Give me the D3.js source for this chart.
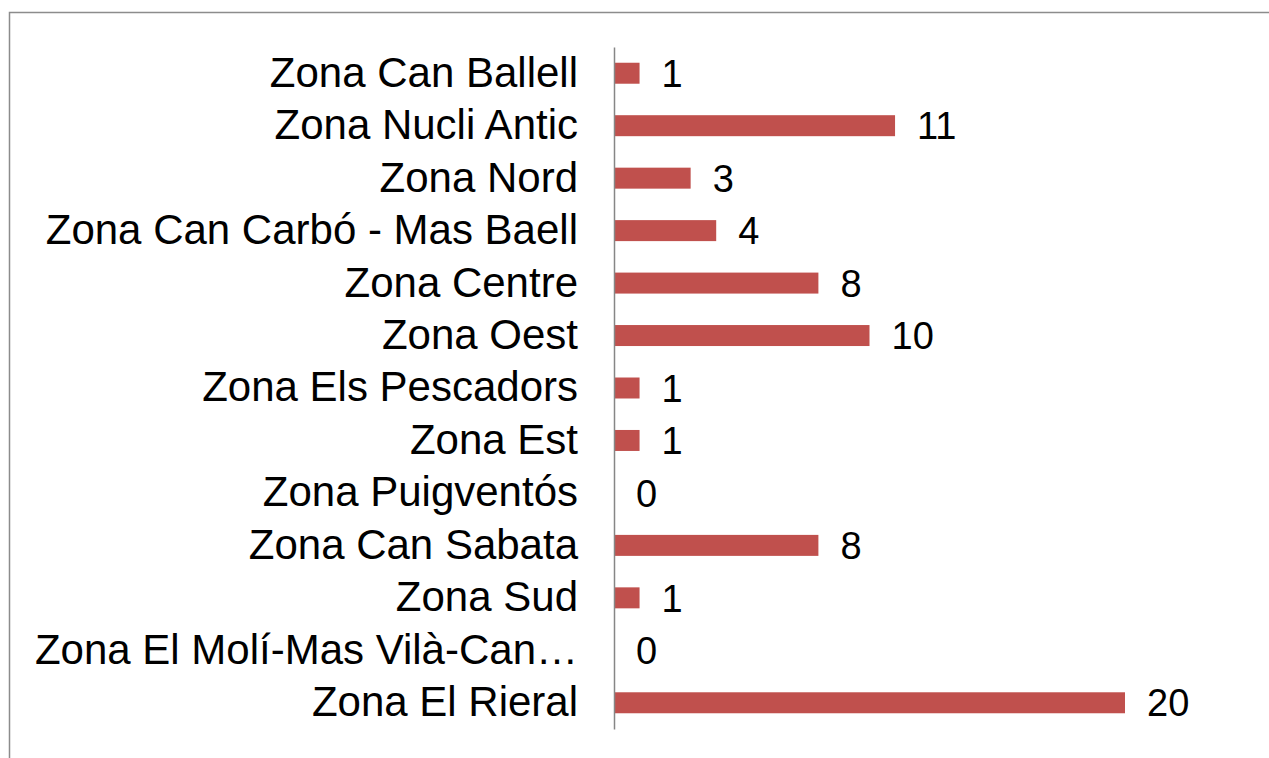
<!DOCTYPE html>
<html>
<head>
<meta charset="utf-8">
<script src="https://cdn.jsdelivr.net/npm/d3@7"></script>
<style>
  html, body { margin: 0; padding: 0; background: #fff; }
  svg { display: block; }
</style>
</head>
<body>
<script>
const categories = [
  "Zona Can Ballell",
  "Zona Nucli Antic",
  "Zona Nord",
  "Zona Can Carbó - Mas Baell",
  "Zona Centre",
  "Zona Oest",
  "Zona Els Pescadors",
  "Zona Est",
  "Zona Puigventós",
  "Zona Can Sabata",
  "Zona Sud",
  "Zona El Molí-Mas Vilà-Can…",
  "Zona El Rieral"
];
const values = [1, 11, 3, 4, 8, 10, 1, 1, 0, 8, 1, 0, 20];

const W = 1269, H = 758;
const svg = d3.select("body").append("svg").attr("width", W).attr("height", H);

// chart frame
svg.append("rect")
  .attr("x", 9.5).attr("y", 12.5)
  .attr("width", W + 20).attr("height", H + 20)
  .attr("fill", "#fff").attr("stroke", "#8c8c8c").attr("stroke-width", 1.5);

const x0 = 614;
const x = d3.scaleLinear().domain([0, 20]).range([x0, 1125]);
const y = d3.scaleBand().domain(categories).range([47, 729]).paddingInner(0.6).paddingOuter(0.3);

const fontFamily = "'Century Gothic', 'URW Gothic', 'Liberation Sans', Arial, sans-serif";

// bars
svg.append("g").selectAll("rect")
  .data(categories)
  .join("rect")
  .attr("x", x(0))
  .attr("y", d => y(d))
  .attr("width", (d, i) => x(values[i]) - x(0))
  .attr("height", y.bandwidth())
  .attr("fill", "#C0504D");

// category axis (left), no ticks
const axis = d3.axisLeft(y).tickSize(0).tickPadding(36);
const gAxis = svg.append("g").attr("transform", `translate(${x0},0)`).call(axis);
gAxis.select(".domain").attr("stroke", "#868686").attr("stroke-width", 1.5);
gAxis.selectAll(".tick text")
  .attr("font-family", fontFamily)
  .attr("font-size", 42)
  .attr("fill", "#000");

// value labels
svg.append("g").selectAll("text")
  .data(categories)
  .join("text")
  .attr("x", (d, i) => x(values[i]) + 22)
  .attr("y", d => y(d) + y.bandwidth() / 2)
  .attr("dy", "0.36em")
  .attr("font-family", fontFamily)
  .attr("font-size", 38)
  .attr("fill", "#000")
  .text((d, i) => values[i]);
</script>
</body>
</html>
